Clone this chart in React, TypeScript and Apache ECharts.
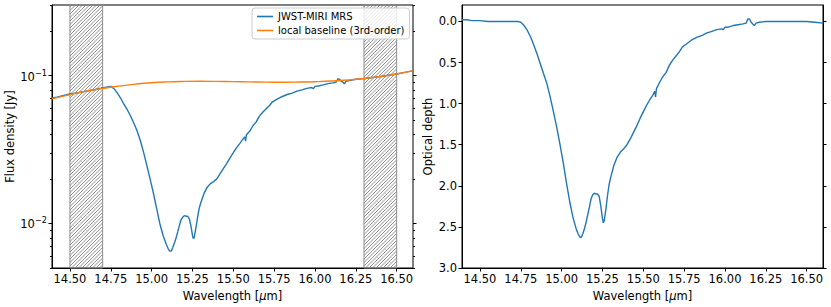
import React, { useEffect, useRef } from "react";
import * as echarts from "echarts";

// ---------- data ----------
const wavelength = [
  14.39, 14.42, 14.45, 14.5, 14.55, 14.6, 14.65, 14.7, 14.73, 14.75, 14.77, 14.79, 14.81, 14.83, 14.85,
  14.87, 14.89, 14.91, 14.93, 14.95, 14.97, 14.99, 15.01, 15.03, 15.05, 15.07, 15.09, 15.1, 15.11, 15.12,
  15.13, 15.14, 15.15, 15.16, 15.17, 15.18, 15.19, 15.2, 15.21, 15.22, 15.23, 15.24, 15.25, 15.255, 15.26,
  15.27, 15.28, 15.29, 15.3, 15.32, 15.34, 15.36, 15.38, 15.4, 15.42, 15.44, 15.46, 15.48, 15.5, 15.52,
  15.54, 15.56, 15.57, 15.575, 15.58, 15.6, 15.62, 15.64, 15.66, 15.68, 15.7, 15.72, 15.74, 15.76, 15.78,
  15.8, 15.83, 15.86, 15.89, 15.92, 15.95, 15.98, 15.99, 16.0, 16.02, 16.05, 16.08, 16.11, 16.13, 16.14,
  16.15, 16.16, 16.17, 16.18, 16.19, 16.21, 16.25, 16.3, 16.35, 16.4, 16.45, 16.5, 16.55, 16.6,
];

const fluxMRS = [
  0.0705, 0.0715, 0.0728, 0.075, 0.0765, 0.0785, 0.0802, 0.0825, 0.0838, 0.0845, 0.0815, 0.076, 0.0705, 0.064, 0.059,
  0.0535, 0.048, 0.0425, 0.0365, 0.0305, 0.0248, 0.0201, 0.0162, 0.0127, 0.01, 0.0083, 0.0072, 0.0068, 0.0065, 0.0065,
  0.0069, 0.0074, 0.008, 0.0088, 0.0097, 0.0106, 0.011, 0.0113, 0.0112, 0.0112, 0.0108, 0.0097, 0.0083, 0.0079, 0.008,
  0.0092, 0.0108, 0.0125, 0.0137, 0.0159, 0.0176, 0.0186, 0.0192, 0.0201, 0.0218, 0.0236, 0.0255, 0.0278, 0.0301, 0.0326,
  0.0348, 0.0373, 0.0385, 0.036, 0.0398, 0.042, 0.0458, 0.0486, 0.0532, 0.0565, 0.0595, 0.0625, 0.0665, 0.0685, 0.0705,
  0.0722, 0.0745, 0.076, 0.0785, 0.08, 0.082, 0.083, 0.0815, 0.0845, 0.085, 0.0865, 0.0882, 0.0892, 0.0905, 0.095,
  0.0945, 0.0915, 0.0905, 0.088, 0.0915, 0.0925, 0.0944, 0.0955, 0.097, 0.0985, 0.1005, 0.1025, 0.105, 0.1075,
];

const opticalDepth = [
  -0.02, -0.02, -0.01, -0.01, 0.0, 0.0, 0.0, 0.0, 0.0, 0.01, 0.05, 0.11, 0.19, 0.29, 0.4,
  0.52, 0.64, 0.76, 0.92, 1.1, 1.29, 1.5, 1.72, 1.97, 2.2, 2.39, 2.53, 2.58, 2.62, 2.63,
  2.58, 2.52, 2.44, 2.35, 2.26, 2.16, 2.11, 2.09, 2.1, 2.1, 2.13, 2.25, 2.4, 2.45, 2.43,
  2.3, 2.13, 1.99, 1.9, 1.75, 1.65, 1.59, 1.55, 1.5, 1.43, 1.35, 1.27, 1.18, 1.1, 1.02,
  0.95, 0.89, 0.85, 0.92, 0.82, 0.74, 0.67, 0.62, 0.53, 0.47, 0.42, 0.37, 0.31, 0.28, 0.25,
  0.22, 0.19, 0.17, 0.14, 0.12, 0.1, 0.09, 0.1, 0.07, 0.07, 0.05, 0.04, 0.03, 0.02, -0.03,
  -0.03, 0.01, 0.03, 0.05, 0.02, 0.01, 0.0, 0.0, 0.0, 0.0, 0.0, 0.0, 0.01, 0.02,
];

const baselineWavelength = [
  14.39, 14.5, 14.6, 14.7, 14.8, 14.9, 15.0, 15.1, 15.2, 15.3, 15.4, 15.5, 15.6, 15.7, 15.8, 15.9, 16.0,
  16.1, 16.2, 16.3, 16.4, 16.5, 16.6,
];
const baselineFlux = [
  0.0695, 0.0743, 0.0785, 0.0818, 0.0848, 0.0875, 0.0895, 0.0907, 0.0913, 0.0915, 0.0913, 0.091, 0.0906,
  0.0903, 0.0902, 0.0904, 0.0909, 0.0918, 0.0933, 0.0955, 0.0985, 0.1025, 0.108,
];

const xTicks = [14.5, 14.75, 15.0, 15.25, 15.5, 15.75, 16.0, 16.25, 16.5];
const fluxMajorTicks = [0.01, 0.1];
const fluxMinorTicks = [
  0.005, 0.006, 0.007, 0.008, 0.009, 0.02, 0.03, 0.04, 0.05, 0.06, 0.07, 0.08, 0.09, 0.2, 0.3,
];
const depthTicks = [0, 0.5, 1.0, 1.5, 2.0, 2.5, 3.0];
const continuumWindows = [
  [14.5, 14.7],
  [16.3, 16.5],
];

const X_MIN = 14.39;
const X_MAX = 16.6;
const FLUX_MIN = 0.005;
const FLUX_MAX = 0.3;
const DEPTH_MIN = -0.2;
const DEPTH_MAX = 3.0;

const FONT = "DejaVu Sans";
const BLUE = "#1f77b4";
const ORANGE = "#ff7f0e";

const logLabel = (v: number) => "{b|10}{s|" + String(Math.round(v)).replace("-", "\u2212") + "}";

function makeHatch(): string {
  const s = 7;
  const c = document.createElement("canvas");
  c.width = s;
  c.height = s;
  const ctx = c.getContext("2d")!;
  ctx.strokeStyle = "#6a6a6a";
  ctx.lineWidth = 0.75;
  for (const k of [0, 3.5, 7, 10.5, 14]) {
    ctx.beginPath();
    ctx.moveTo(-1, k + 1);
    ctx.lineTo(k + 1, -1);
    ctx.stroke();
  }
  return c.toDataURL();
}

export default function App() {
  const ref = useRef<HTMLDivElement>(null);

  useEffect(() => {
    if (!ref.current) return;
    const chart = echarts.init(ref.current, null, { renderer: "svg" });
    const hatch = makeHatch();
    const lg = (v: number) => Math.log10(v);

    const tickLabel = { fontFamily: FONT, fontSize: 11.5, color: "#000" };
    const nameStyle = {
      fontFamily: FONT,
      fontSize: 11.5,
      color: "#000",
      rich: {
        i: { fontFamily: FONT, fontSize: 11.5, fontStyle: "italic", color: "#000" },
      },
    };

    const xAxisBase = (gridIndex: number) => ({
      gridIndex,
      type: "value",
      min: X_MIN,
      max: X_MAX,
      name: "Wavelength [{i|\u03bc}m]",
      nameLocation: "middle",
      nameGap: 19,
      nameTextStyle: nameStyle,
      axisLine: { show: true, onZero: false, lineStyle: { color: "#000", width: 1 } },
      axisTick: { show: true, customValues: xTicks, length: 3.5, lineStyle: { color: "#000" } },
      axisLabel: {
        ...tickLabel,
        customValues: xTicks,
        margin: 5,
        formatter: (v: number) => v.toFixed(2),
      },
      splitLine: { show: false },
    });

    const fluxAxis = (position: string, ticks: number[], len: number, labels: boolean, name?: string) => ({
      gridIndex: 0,
      type: "value",
      position,
      min: lg(FLUX_MIN),
      max: lg(FLUX_MAX),
      name,
      nameLocation: "middle",
      nameGap: 35,
      nameTextStyle: nameStyle,
      axisLine: { show: labels, onZero: false, lineStyle: { color: "#000", width: 1 } },
      axisTick: { show: true, customValues: ticks.map(lg), length: len, lineStyle: { color: "#000" } },
      axisLabel: labels
        ? {
            ...tickLabel,
            customValues: ticks.map(lg),
            margin: 5,
            formatter: logLabel,
            rich: {
              b: { fontFamily: FONT, fontSize: 11.5, color: "#000", lineHeight: 14, verticalAlign: "bottom" },
              s: { fontFamily: FONT, fontSize: 8.2, color: "#000", lineHeight: 9, verticalAlign: "top" },
            },
          }
        : { show: false },
      splitLine: { show: false },
    });

    const depthAxis = (position: string, labels: boolean, name?: string) => ({
      gridIndex: 1,
      type: "value",
      position,
      inverse: true,
      min: DEPTH_MIN,
      max: DEPTH_MAX,
      name,
      nameLocation: "middle",
      nameGap: 28,
      nameTextStyle: nameStyle,
      axisLine: { show: true, onZero: false, lineStyle: { color: "#000", width: 1 } },
      axisTick: { show: true, customValues: depthTicks, length: 3.5, lineStyle: { color: "#000" } },
      axisLabel: labels
        ? { ...tickLabel, customValues: depthTicks, margin: 5, formatter: (v: number) => v.toFixed(1) }
        : { show: false },
      splitLine: { show: false },
    });

    const option: any = {
      animation: false,
      backgroundColor: "#fff",
      textStyle: { fontFamily: FONT },
      legend: {
        left: 252,
        top: 8,
        orient: "vertical",
        data: ["JWST-MIRI MRS", "local baseline (3rd-order)"],
        icon: "rect",
        itemWidth: 16,
        itemHeight: 1.6,
        itemGap: 3,
        itemTextGap: 5,
        padding: [3, 5, 3, 5],
        backgroundColor: "rgba(255,255,255,0.8)",
        borderColor: "#ccc",
        borderWidth: 1,
        borderRadius: 3,
        textStyle: { fontFamily: FONT, fontSize: 10, color: "#000", lineHeight: 11 },
      },
      grid: [
        { left: 52, right: 418, top: 5, bottom: 39, show: true, borderColor: "#000", borderWidth: 1, backgroundColor: "transparent" },
        { left: 462, right: 8, top: 5, bottom: 39, show: true, borderColor: "#000", borderWidth: 1, backgroundColor: "transparent" },
      ],
      xAxis: [xAxisBase(0), xAxisBase(1)],
      yAxis: [
        fluxAxis("left", fluxMajorTicks, 3.5, true, "Flux density [Jy]"),
        fluxAxis("left", fluxMinorTicks, 2, false),
        fluxAxis("right", fluxMajorTicks, 3.5, false),
        fluxAxis("right", fluxMinorTicks, 2, false),
        depthAxis("left", true, "Optical depth"),
        depthAxis("right", false),
      ],
      series: [
        {
          name: "JWST-MIRI MRS",
          type: "line",
          xAxisIndex: 0,
          yAxisIndex: 0,
          data: wavelength.map((w, i) => [w, lg(fluxMRS[i])]),
          showSymbol: false,
          symbol: "none",
          color: BLUE,
          lineStyle: { color: BLUE, width: 1.4 },
          z: 3,
          markArea: {
            silent: true,
            z: 1,
            itemStyle: {
              color: { image: hatch, repeat: "repeat", imageWidth: 7, imageHeight: 7 },
              borderColor: "#8c8c8c",
              borderWidth: 1,
            },
            data: continuumWindows.map(([a, b]) => [{ xAxis: a }, { xAxis: b }]),
          },
        },
        {
          name: "local baseline (3rd-order)",
          type: "line",
          xAxisIndex: 0,
          yAxisIndex: 0,
          data: baselineWavelength.map((w, i) => [w, lg(baselineFlux[i])]),
          smooth: true,
          showSymbol: false,
          symbol: "none",
          color: ORANGE,
          lineStyle: { color: ORANGE, width: 1.4 },
          z: 4,
        },
        {
          name: "Optical depth",
          type: "line",
          xAxisIndex: 1,
          yAxisIndex: 4,
          data: wavelength.map((w, i) => [w, opticalDepth[i]]),
          showSymbol: false,
          symbol: "none",
          color: BLUE,
          lineStyle: { color: BLUE, width: 1.4 },
          z: 3,
        },
      ],
    };

    chart.setOption(option);
    return () => chart.dispose();
  }, []);

  return (
    <div
      ref={ref}
      style={{ position: "fixed", left: 0, top: 0, width: 831, height: 307, background: "#fff" }}
    />
  );
}
